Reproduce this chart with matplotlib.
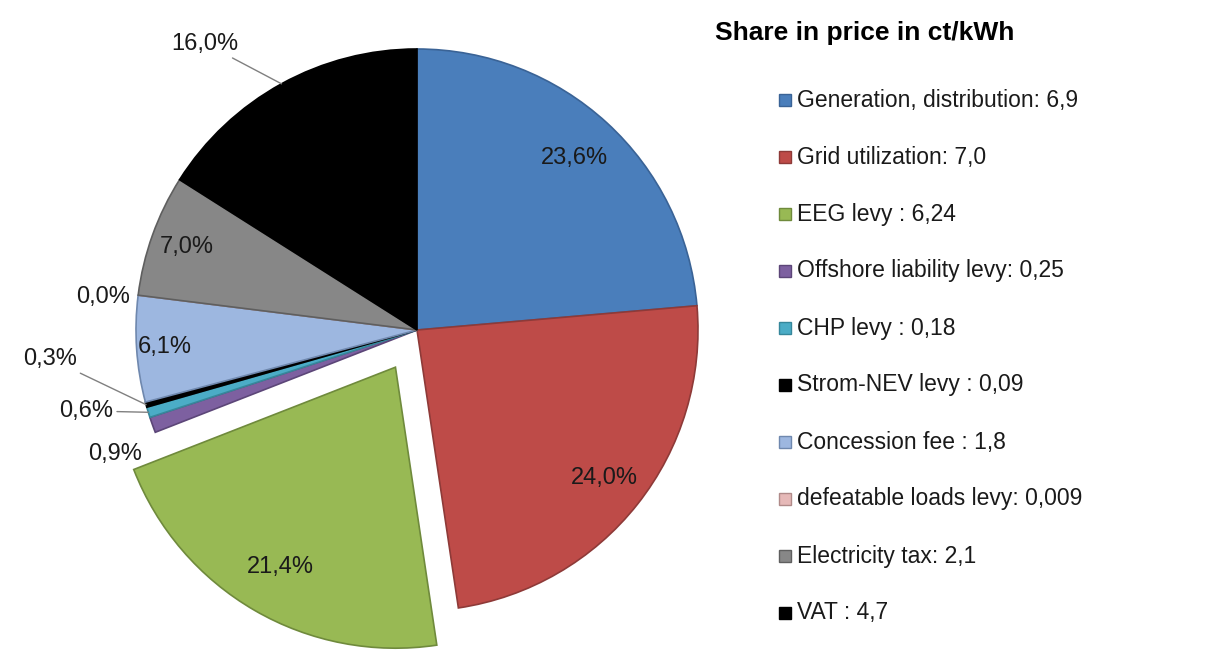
import numpy as np
import matplotlib
matplotlib.use('Agg')
import matplotlib.pyplot as plt
from matplotlib.patches import Rectangle

plt.rcParams['font.family'] = ['Liberation Sans', 'DejaVu Sans']

# shares in percent (clockwise from 12 o'clock)
shares = [23.6, 24.0, 21.4, 0.9, 0.6, 0.3, 6.1, 0.0, 7.0, 16.0]
legend_names = ['Generation, distribution: 6,9', 'Grid utilization: 7,0', 'EEG levy : 6,24',
                'Offshore liability levy: 0,25', 'CHP levy : 0,18', 'Strom-NEV levy : 0,09',
                'Concession fee : 1,8', 'defeatable loads levy: 0,009', 'Electricity tax: 2,1',
                'VAT : 4,7']
colors = ['#4A7EBB', '#BE4B48', '#98B954', '#7D60A0', '#4BACC6', '#000000',
          '#9DB7E0', '#E6B9B8', '#878787', '#000000']
edges = ['#3A6396', '#8E3A38', '#6F8A3C', '#5C4678', '#36879B', '#000000',
         '#6F88AE', '#B08A89', '#5F5F5F', '#000000']
explode = [0, 0, 0.153, 0, 0, 0, 0, 0, 0, 0]

W, H = 1223, 652
cx, cy, R = 417, 330, 281

fig = plt.figure(figsize=(W / 100, H / 100), dpi=100)
ax = fig.add_axes([0, 0, 1, 1])

wedges, _ = ax.pie(shares, colors=colors, explode=explode, startangle=90, counterclock=False,
                   radius=1, wedgeprops=dict(linewidth=1.2))
for w, ec in zip(wedges, edges):
    w.set_edgecolor(ec)

ax.set_xlim(-cx / R, (W - cx) / R)
ax.set_ylim(-(H - cy) / R, cy / R)
ax.set_aspect('auto')
ax.axis('off')

# label placement: inside radius, or outside with offset (points) and leader flag
inside_r = {0: 0.83, 1: 0.85, 2: 0.82, 6: 0.90, 8: 0.87}
outside = {3: ((-27, -21), False), 4: ((-45, 1), True), 5: ((-69, 33), True),
           7: ((-25, -1), False), 9: ((-55, 29), True)}

fs = 17
for i, w in enumerate(wedges):
    mid = np.deg2rad((w.theta1 + w.theta2) / 2)
    ox, oy = w.center
    txt = ('%.1f%%' % shares[i]).replace('.', ',')
    if i in inside_r:
        r = inside_r[i]
        ax.text(ox + r * np.cos(mid), oy + r * np.sin(mid), txt, ha='center', va='center',
                fontsize=fs, color='#1a1a1a')
    else:
        off, leader = outside[i]
        xy = (ox + np.cos(mid), oy + np.sin(mid))
        ax.annotate(txt, xy=xy, xytext=off, textcoords='offset points', ha='center', va='center',
                    fontsize=fs, color='#1a1a1a',
                    arrowprops=dict(arrowstyle='-', color='#808080', lw=1, shrinkA=1, shrinkB=0)
                    if leader else None)

# legend
fig.text(715 / W, 1 - 33 / H, 'Share in price in ct/kWh', fontsize=19, fontweight='bold',
         ha='left', va='center')
y0, step = 100, 57
for i, name in enumerate(legend_names):
    y = y0 + i * step
    fig.patches.append(Rectangle((779 / W, 1 - (y + 6) / H), 12 / W, 12 / H, transform=fig.transFigure,
                                 facecolor=colors[i], edgecolor=edges[i], linewidth=1))
    fig.text(797 / W, 1 - y / H, name, fontsize=16.5, ha='left', va='center', color='#1a1a1a')

fig.savefig('out.png', dpi=100)
